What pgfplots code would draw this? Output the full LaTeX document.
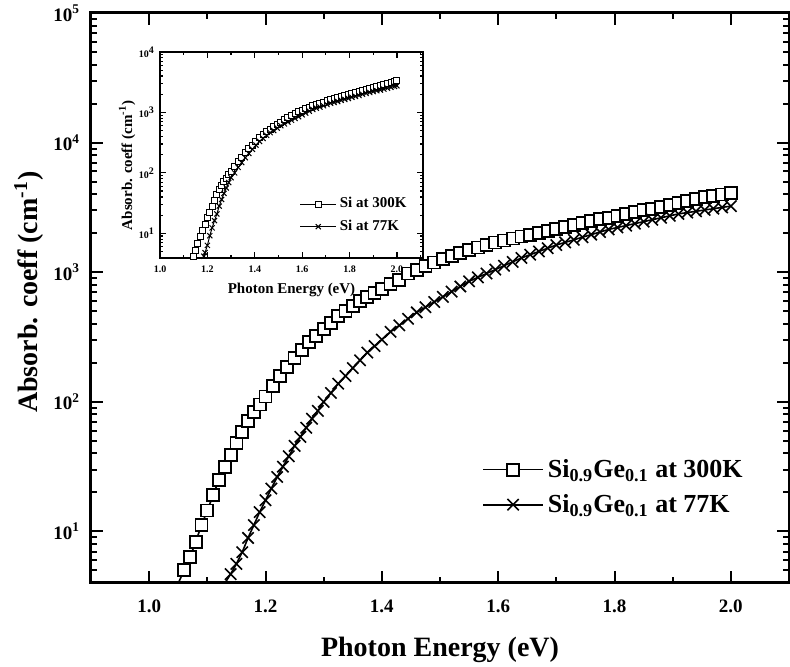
\documentclass[border=0pt]{standalone}
\usepackage{fontspec}
\setmainfont{Liberation Serif}
\usepackage{pgfplots}
\pgfplotsset{compat=1.18}
\usetikzlibrary{calc}

\pgfplotsset{
  mylegimg/.style={legend image code/.code={%
    \draw[mark repeat=2,mark phase=2,##1] plot coordinates {(0pt,0pt) (#1,0pt) (2*#1,0pt)};}},
}

\begin{document}
\begin{tikzpicture}
\begin{axis}[
  name=main,
  at={(0pt,0pt)}, anchor=south west,
  scale only axis, width=349pt, height=285pt,
  xmin=0.9, xmax=2.1, ymin=4, ymax=100000,
  ymode=log,
  xtick={1.0,1.2,1.4,1.6,1.8,2.0},
  xticklabels={1.0,1.2,1.4,1.6,1.8,2.0},
  minor xtick={0.9,1.1,1.3,1.5,1.7,1.9,2.1},
  ytick={10,100,1000,10000,100000},
  yticklabels={10\textsuperscript{1},10\textsuperscript{2},10\textsuperscript{3},10\textsuperscript{4},10\textsuperscript{5}},
  minor ytick={5,6,7,8,9,20,30,40,50,60,70,80,90,200,300,400,500,600,700,800,900,2000,3000,4000,5000,6000,7000,8000,9000,20000,30000,40000,50000,60000,70000,80000,90000},
  tick align=inside,
  major tick length=6pt, minor tick length=3pt,
  axis line style={line width=1.5pt},
  every tick/.style={black, line width=1pt},
  tick label style={font=\bfseries\fontsize{9.5}{11}\selectfont},
  xticklabel style={yshift=-5pt},
  yticklabel style={xshift=-2pt},
  xlabel={Photon Energy (eV)},
  ylabel={Absorb. coeff (cm\textsuperscript{-1})},
  label style={font=\bfseries\fontsize{14}{16}\selectfont},
  xlabel style={at={(axis description cs:0.5,-0.1175)}, anchor=center},
  ylabel style={at={(axis description cs:-0.089,0.51)}, anchor=center},
  legend style={draw=none, fill=none, at={(axis description cs:0.56,0.225)}, anchor=north west,
    font=\bfseries\fontsize{13}{15}\selectfont, row sep=3pt, inner sep=0pt,
    nodes={inner sep=2pt}},
  legend cell align=left,
  mylegimg=15pt,
]
\addplot[black, line width=0.8pt, mark=square*, mark size=3pt,
  mark options={fill=white, line width=0.9pt}] coordinates {
(1.05,3.98)(1.06,5.01)(1.07,6.31)(1.08,8.32)(1.09,11.2)(1.10,14.5)(1.11,19.1)(1.12,25.1)
(1.13,31.6)(1.14,38.9)(1.15,47.9)(1.16,58.9)(1.17,70.8)(1.18,83.2)(1.19,95.5)(1.20,110)
(1.2125,132)(1.225,158)(1.2375,186)(1.25,219)(1.2625,251)(1.275,288)(1.2875,324)(1.30,363)
(1.3125,407)(1.325,457)(1.3375,501)(1.35,550)(1.3625,603)(1.375,646)(1.3875,692)(1.40,741)
(1.415,813)(1.43,871)(1.445,977)(1.46,1047)(1.475,1122)(1.49,1189)(1.505,1259)(1.52,1334)
(1.535,1413)(1.55,1479)(1.565,1549)(1.58,1622)(1.595,1698)(1.61,1758)(1.625,1820)(1.64,1884)
(1.655,1950)(1.67,2018)(1.685,2089)(1.70,2163)(1.715,2239)(1.73,2317)(1.745,2399)(1.76,2483)
(1.775,2570)(1.79,2630)(1.805,2723)(1.82,2818)(1.835,2917)(1.85,3020)(1.865,3090)(1.88,3199)
(1.895,3311)(1.91,3428)(1.925,3548)(1.94,3673)(1.955,3802)(1.97,3890)(1.985,3981)(2.00,4074)
};
\addlegendentry{Si\textsubscript{0.9}Ge\textsubscript{0.1} at 300K}
\addplot[black, line width=0.8pt, mark=x, mark size=4pt,
  mark options={line width=0.8pt}] coordinates {
(1.13,3.98)(1.14,4.68)(1.15,5.62)(1.16,6.92)(1.17,8.91)(1.18,11.2)(1.19,14.1)(1.20,17.4)
(1.21,21.4)(1.22,26.3)(1.23,31.6)(1.24,38.0)(1.25,45.7)(1.26,53.7)(1.27,63.1)(1.28,74.1)
(1.29,85.1)(1.30,100)(1.3125,117)(1.325,138)(1.3375,158)(1.35,182)(1.3625,209)(1.375,240)
(1.3875,269)(1.40,302)(1.415,347)(1.43,389)(1.445,437)(1.46,490)(1.475,537)(1.49,589)
(1.505,646)(1.52,708)(1.535,776)(1.55,851)(1.565,912)(1.58,977)(1.595,1047)(1.61,1122)
(1.625,1202)(1.64,1288)(1.655,1365)(1.67,1445)(1.685,1531)(1.70,1622)(1.715,1698)(1.73,1778)
(1.745,1862)(1.76,1950)(1.775,2042)(1.79,2138)(1.805,2213)(1.82,2291)(1.835,2371)(1.85,2455)
(1.865,2541)(1.88,2630)(1.895,2723)(1.91,2818)(1.925,2884)(1.94,2951)(1.955,3020)(1.97,3090)
(1.985,3162)(2.00,3236)
};
\addlegendentry{Si\textsubscript{0.9}Ge\textsubscript{0.1} at 77K}
\end{axis}

\begin{axis}[
  at={(34.5pt,265.5pt)}, anchor=north west,
  scale only axis, width=131.5pt, height=103pt,
  xmin=1.0, xmax=2.11, ymin=3.9, ymax=10000,
  ymode=log,
  xtick={1.0,1.2,1.4,1.6,1.8,2.0},
  xticklabels={1.0,1.2,1.4,1.6,1.8,2.0},
  minor xtick={1.1,1.3,1.5,1.7,1.9,2.1},
  ytick={10,100,1000,10000},
  yticklabels={10\textsuperscript{1},10\textsuperscript{2},10\textsuperscript{3},10\textsuperscript{4}},
  minor ytick={5,6,7,8,9,20,30,40,50,60,70,80,90,200,300,400,500,600,700,800,900,2000,3000,4000,5000,6000,7000,8000,9000},
  tick align=inside,
  major tick length=3pt, minor tick length=1.5pt,
  axis line style={line width=0.8pt},
  every tick/.style={black, line width=0.6pt},
  tick label style={font=\bfseries\fontsize{5}{6}\selectfont},
  xticklabel style={yshift=-0.5pt},
  yticklabel style={xshift=1pt},
  xlabel={Photon Energy (eV)},
  ylabel={Absorb. coeff (cm\textsuperscript{-1})},
  label style={font=\bfseries\fontsize{7.5}{9}\selectfont},
  xlabel style={at={(axis description cs:0.5,-0.155)}, anchor=center},
  ylabel style={at={(axis description cs:-0.125,0.45)}, anchor=center},
  legend style={draw=none, fill=none, at={(axis description cs:0.53,0.31)}, anchor=north west,
    font=\bfseries\fontsize{7.5}{9}\selectfont, row sep=1.5pt, inner sep=0pt,
    nodes={inner sep=1.5pt}},
  legend cell align=left,
  mylegimg=9pt,
]
\addplot[black, line width=0.5pt, mark=square*, mark size=1.5pt,
  mark options={fill=white, line width=0.5pt}] coordinates {
(1.14,4.17)(1.15,5.25)(1.16,6.76)(1.17,8.71)(1.18,11.0)(1.19,14.1)(1.20,18.2)(1.21,22.4)
(1.22,28.2)(1.23,35.5)(1.24,43.7)(1.25,52.5)(1.26,61.7)(1.27,70.8)(1.28,81.3)(1.29,93.3)
(1.30,107)(1.315,129)(1.33,155)(1.345,182)(1.36,214)(1.375,251)(1.39,288)(1.405,331)
(1.42,380)(1.435,427)(1.45,479)(1.465,525)(1.48,575)(1.495,631)(1.51,692)(1.525,750)
(1.54,813)(1.555,881)(1.57,955)(1.585,1023)(1.60,1096)(1.615,1148)(1.63,1216)(1.645,1288)
(1.66,1349)(1.675,1413)(1.69,1479)(1.705,1549)(1.72,1622)(1.735,1679)(1.75,1738)(1.765,1820)
(1.78,1905)(1.795,1995)(1.81,2065)(1.825,2138)(1.84,2239)(1.855,2344)(1.87,2427)(1.885,2512)
(1.90,2630)(1.915,2692)(1.93,2786)(1.945,2884)(1.96,3020)(1.975,3090)(1.99,3236)(2.00,3311)
};
\addlegendentry{Si at 300K}
\addplot[black, line width=0.5pt, mark=x, mark size=1.8pt,
  mark options={line width=0.5pt}] coordinates {
(1.185,4.17)(1.19,4.79)(1.20,6.31)(1.21,9.12)(1.22,12.3)(1.23,16.2)(1.24,20.9)(1.25,28.2)
(1.26,36.3)(1.27,45.7)(1.28,56.2)(1.29,69.2)(1.30,83.2)(1.315,100)(1.33,123)(1.345,148)
(1.36,178)(1.375,209)(1.39,245)(1.405,288)(1.42,331)(1.435,372)(1.45,417)(1.465,462)
(1.48,501)(1.495,550)(1.51,603)(1.525,646)(1.54,692)(1.555,741)(1.57,794)(1.585,851)
(1.60,912)(1.615,977)(1.63,1047)(1.645,1122)(1.66,1175)(1.675,1230)(1.69,1288)(1.705,1349)
(1.72,1413)(1.735,1462)(1.75,1514)(1.765,1585)(1.78,1641)(1.795,1698)(1.81,1778)(1.825,1841)
(1.84,1905)(1.855,1995)(1.87,2065)(1.885,2138)(1.90,2213)(1.915,2291)(1.93,2344)(1.945,2427)
(1.96,2512)(1.975,2600)(1.99,2692)(2.00,2754)
};
\addlegendentry{Si at 77K}
\end{axis}
\pgfresetboundingbox
\useasboundingbox (-45.5pt,-42pt) rectangle (349.5pt,291.5pt);
\end{tikzpicture}
\end{document}
